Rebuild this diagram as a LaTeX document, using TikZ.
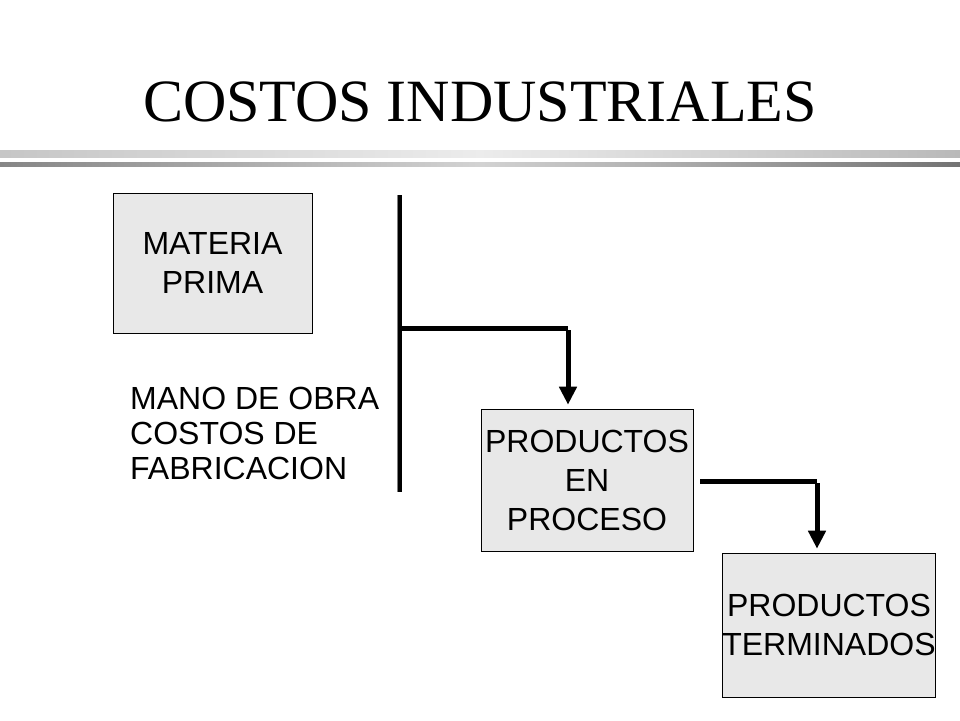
\documentclass[tikz,border=0pt]{standalone}
\usepackage{fontspec}
\setmainfont{Liberation Serif}
\setsansfont{Liberation Sans}
\usetikzlibrary{positioning, arrows.meta, calc}
\tikzset{
    caja/.style={draw=black, fill=gray!18, line width=0.6pt, inner sep=0pt,
        align=center, font=\sffamily\fontsize{32}{39}\selectfont},
    flujo/.style={line width=5pt},
    flecha/.style={line width=5pt, -{Triangle[width=17pt,length=18pt]}}
}
\begin{document}
\begin{tikzpicture}[x=1pt, y=-1pt]
    \useasboundingbox (0,0) rectangle (960,720);

    % title and rules
    \node (titulo) at (480,102) {\fontsize{60}{62}\selectfont COSTOS INDUSTRIALES};
    \shade[left color=gray!45, right color=gray!15] (0,150) rectangle (480,157);
    \shade[left color=gray!15, right color=gray!55] (480,150) rectangle (960,157);
    \shade[left color=gray!95, right color=gray!35] (0,162) rectangle (480,166);
    \shade[left color=gray!35, right color=gray!110] (480,162) rectangle (960,166);

    % boxes
    \node[caja, minimum width=199, minimum height=140] (mp) at (212.5,263) {MATERIA\\PRIMA};
    \node[caja, minimum width=212, minimum height=142] (pp) at (587,480) {PRODUCTOS\\EN\\PROCESO};
    \node[caja, minimum width=212, minimum height=144, text depth=0pt] (pt) at (829,625) {PRODUCTOS\\TERMINADOS};

    \node[align=left, anchor=north west, inner sep=0pt, font=\sffamily\fontsize{32}{35}\selectfont]
        (mo) at (130,387) {MANO DE OBRA\\COSTOS DE\\FABRICACION};

    % connectors
    \coordinate (barra1) at (400,195);
    \coordinate (barra2) at (400,492);
    \draw[gray, line width=1pt] ($(barra1)+(-3,0)$) -- ($(barra2)+(-3,0)$);
    \draw[line width=4pt] (barra1) -- (barra2);

    \coordinate (codo1) at (568,328);
    \draw[flujo] (402,328) -- (codo1);
    \draw[flecha] ($(codo1)+(0,2)$) -- ($(pp.north -| codo1)+(0,-4)$);

    \coordinate (codo2) at (817,481);
    \draw[flujo] (pp.east |- codo2) ++(7,0) -- (codo2);
    \draw[flecha] ($(codo2)+(0,2)$) -- ($(pt.north -| codo2)+(0,-4)$);
\end{tikzpicture}
\end{document}
